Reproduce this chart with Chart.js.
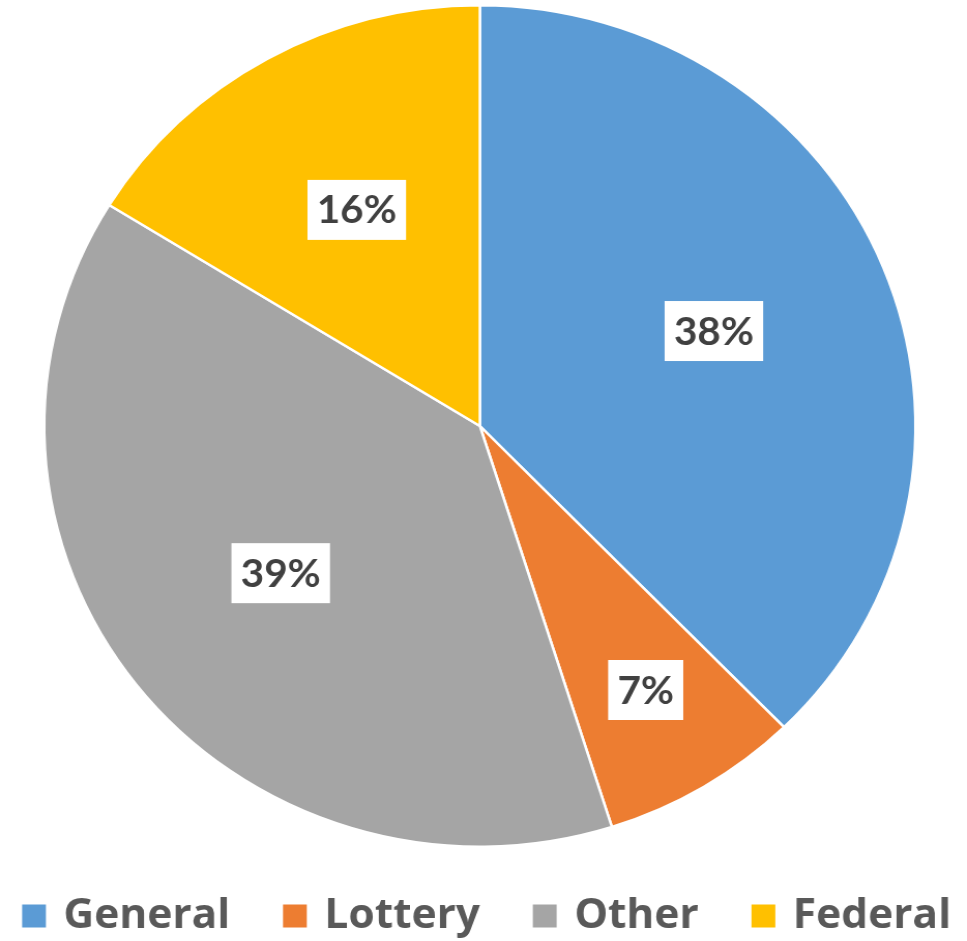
<!DOCTYPE html>
<html>
<head>
<meta charset="utf-8">
<script src="https://cdn.jsdelivr.net/npm/chart.js@4/dist/chart.umd.min.js"></script>
<style>
html,body{margin:0;padding:0;background:#fff;overflow:hidden;}
#wrap{width:934px;height:941px;position:relative;transform:scaleX(1.0353);transform-origin:0 0;}
</style>
</head>
<body>
<div id="wrap"><canvas id="c"></canvas></div>
<script>
const categories = ["General", "Lottery", "Other", "Federal"];
const shares = [37.7, 7.4, 38.7, 16.2];
const colors = ["#5B9BD5", "#ED7D31", "#A5A5A5", "#FFC000"];

const labelPlugin = {
  id: 'boxLabels',
  afterDatasetsDraw(chart) {
    const ctx = chart.ctx;
    const meta = chart.getDatasetMeta(0);
    const data = chart.data.datasets[0].data;
    const total = data.reduce((a, b) => a + b, 0);
    ctx.save();
    ctx.font = 'bold 39px Lato';
    ctx.textAlign = 'center';
    ctx.textBaseline = 'middle';
    meta.data.forEach((arc, i) => {
      const pct = data[i] / total;
      const mid = (arc.startAngle + arc.endAngle) / 2;
      const frac = pct < 0.1 ? 0.74 : 0.58;
      const x = arc.x + Math.cos(mid) * arc.outerRadius * frac;
      const y = arc.y + Math.sin(mid) * arc.outerRadius * frac - 3;
      const txt = Math.round(pct * 100) + '%';
      const w = ctx.measureText(txt).width + 18;
      const h = 60;
      ctx.fillStyle = '#FFFFFF';
      ctx.fillRect(x - w / 2, y - h / 2, w, h);
      ctx.fillStyle = '#404040';
      ctx.fillText(txt, x, y + 1);
    });
    ctx.restore();
  }
};

const legendPlugin = {
  id: 'bottomLegend',
  afterDraw(chart) {
    const ctx = chart.ctx;
    const labels = chart.data.labels;
    const bg = chart.data.datasets[0].backgroundColor;
    const box = 23, gapText = 17, gapItem = 51;
    ctx.save();
    ctx.font = 'bold 41px "Open Sans"';
    ctx.textBaseline = 'middle';
    ctx.textAlign = 'left';
    const widths = labels.map(t => ctx.measureText(t).width);
    const total = widths.reduce((a, w) => a + box + gapText + w, 0) + gapItem * (labels.length - 1);
    let x = chart.width / 2 + 3 - total / 2;
    const cy = 916;
    labels.forEach((t, i) => {
      ctx.fillStyle = bg[i];
      ctx.fillRect(x, cy - box / 2, box, box);
      x += box + gapText;
      ctx.fillStyle = '#595959';
      ctx.fillText(t, x, cy);
      x += widths[i] + gapItem;
    });
    ctx.restore();
  }
};

new Chart(document.getElementById('c'), {
  type: 'pie',
  data: {
    labels: categories,
    datasets: [{
      data: shares,
      backgroundColor: colors,
      borderColor: '#FFFFFF',
      borderWidth: 2.5
    }]
  },
  options: {
    responsive: true,
    maintainAspectRatio: false,
    animation: false,
    layout: { padding: { top: 4, bottom: 93, left: 0, right: 7 } },
    plugins: {
      tooltip: { enabled: false },
      legend: { display: false }
    }
  },
  plugins: [labelPlugin, legendPlugin]
});
</script>
</body>
</html>
